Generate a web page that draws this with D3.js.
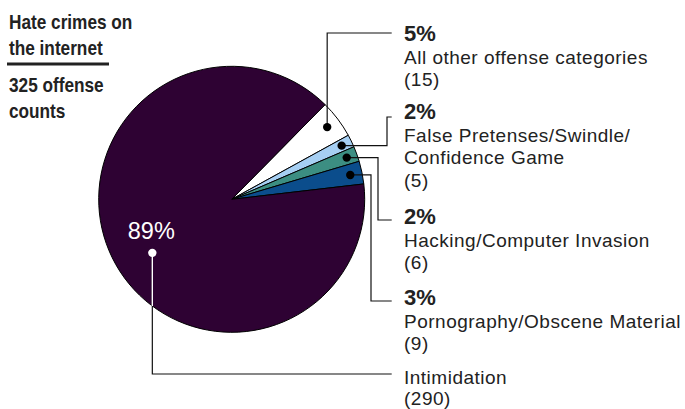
<!DOCTYPE html>
<html>
<head>
<meta charset="utf-8">
<script src="https://cdn.jsdelivr.net/npm/d3@7"></script>
<style>
  body { margin: 0; background: #fff; }
  text { font-family: "Liberation Sans", Arimo, Arial, Helvetica, Roboto, sans-serif; }
  .title { font-weight: bold; font-size: 21px; fill: #222; }
  .pct { font-weight: bold; font-size: 22px; fill: #222; }
  .name { font-size: 19px; letter-spacing: 0.5px; fill: #222; }
</style>
</head>
<body>
<svg id="chart" width="685" height="409"></svg>
<script>
// data
const categories = ["All other offense categories", "False Pretenses/Swindle/Confidence Game", "Hacking/Computer Invasion", "Pornography/Obscene Material", "Intimidation"];
const counts = [15, 5, 6, 9, 290];
const percentLabels = ["5%", "2%", "2%", "3%", "89%"];
const labelLines = [
  ["All other offense categories"],
  ["False Pretenses/Swindle/", "Confidence Game"],
  ["Hacking/Computer Invasion"],
  ["Pornography/Obscene Material"],
  ["Intimidation"]
];
const titleLines = ["Hate crimes on", "the internet"];
const subtitleLines = ["325 offense", "counts"];

const colors = ["#ffffff", "#a6cff3", "#3c8e82", "#0b4d8c", "#2e0233"];

// layout
var cx = 231.7, cy = 199.3, R = 133;
var textX = 404, lineEnd = 391.7, lineH = 22.5;
var textBase = [41, 119, 224, 305, 384];
var leaderY = [33, 117, 220, 301, 374];
var elbowX = [null, 387, 378, 371, null];   // null = go vertical from the dot
var dotR = [0.9, 0.92, 0.92, 0.91, 0.72];
var dotShift = [0, 0, 0, 0, -8];            // degrees

var svg = d3.select("#chart");

// title block (narrow bold face faked with a horizontal squeeze)
var t = svg.append("g");
titleLines.concat(subtitleLines).forEach(function(l, i) {
  var y = i < 2 ? 28.5 + i * 26.5 : 91.5 + (i - 2) * 26;
  t.append("text")
    .attr("class", "title")
    .attr("transform", `translate(9,${y}) scale(0.82,1)`)
    .text(l);
});
t.append("rect").attr("x", 7).attr("y", 62.5).attr("width", 102).attr("height", 3).attr("fill", "#222");

// pie
var deg = Math.PI / 180;
var pie = d3.pie().sort(null).startAngle(44.6 * deg).endAngle(404.6 * deg);
var arcs = pie(counts);
var arc = d3.arc().innerRadius(0).outerRadius(R);

var g = svg.append("g").attr("transform", `translate(${cx},${cy})`);
g.selectAll("path")
  .data(arcs)
  .enter().append("path")
  .attr("d", arc)
  .attr("fill", (d, i) => colors[i])
  .attr("stroke", "#000")
  .attr("stroke-width", 1)
  .attr("stroke-linejoin", "round");

// dots + leader lines
function dotPos(d, i) {
  var a = (d.startAngle + d.endAngle) / 2 + dotShift[i] * deg;
  var r = R * dotR[i];
  return [cx + r * Math.sin(a), cy - r * Math.cos(a)];
}

arcs.forEach(function(d, i) {
  var p = dotPos(d, i);
  var path = d3.path();
  path.moveTo(p[0], p[1]);
  if (elbowX[i] == null) {
    path.lineTo(p[0], leaderY[i]);
  } else {
    path.lineTo(elbowX[i], p[1]);
    path.lineTo(elbowX[i], leaderY[i]);
  }
  path.lineTo(lineEnd, leaderY[i]);
  var white = i === 4;
  svg.append("path").attr("d", path.toString())
    .attr("fill", "none").attr("stroke", "#111").attr("stroke-width", 1.2);
  if (white) {
    // the part inside the pie is white
    var cut = Math.sqrt(R * R - (p[0] - cx) * (p[0] - cx)) + cy;
    svg.append("line").attr("x1", p[0]).attr("x2", p[0]).attr("y1", p[1]).attr("y2", cut)
      .attr("stroke", "#fff").attr("stroke-width", 1.4);
  }
  svg.append("circle").attr("cx", p[0]).attr("cy", p[1]).attr("r", 4.2)
    .attr("fill", white ? "#fff" : "#000");
});

// big percent inside pie
var pi = dotPos(arcs[4], 4);
svg.append("text")
  .attr("x", pi[0] - 1).attr("y", pi[1] - 14)
  .attr("text-anchor", "middle")
  .style("font-size", "23.5px")
  .attr("fill", "#fff")
  .text(percentLabels[4]);

// labels
categories.forEach(function(c, i) {
  var y = textBase[i];
  var lab = svg.append("g");
  if (i < 4) {
    lab.append("text").attr("class", "pct").attr("x", textX).attr("y", y).text(percentLabels[i]);
    y += lineH;
  }
  labelLines[i].concat(["(" + counts[i] + ")"]).forEach(function(l, k) {
    lab.append("text").attr("class", "name").attr("x", textX).attr("y", y + k * (i == 4 ? 20.5 : lineH)).text(l);
  });
});
</script>
</body>
</html>
